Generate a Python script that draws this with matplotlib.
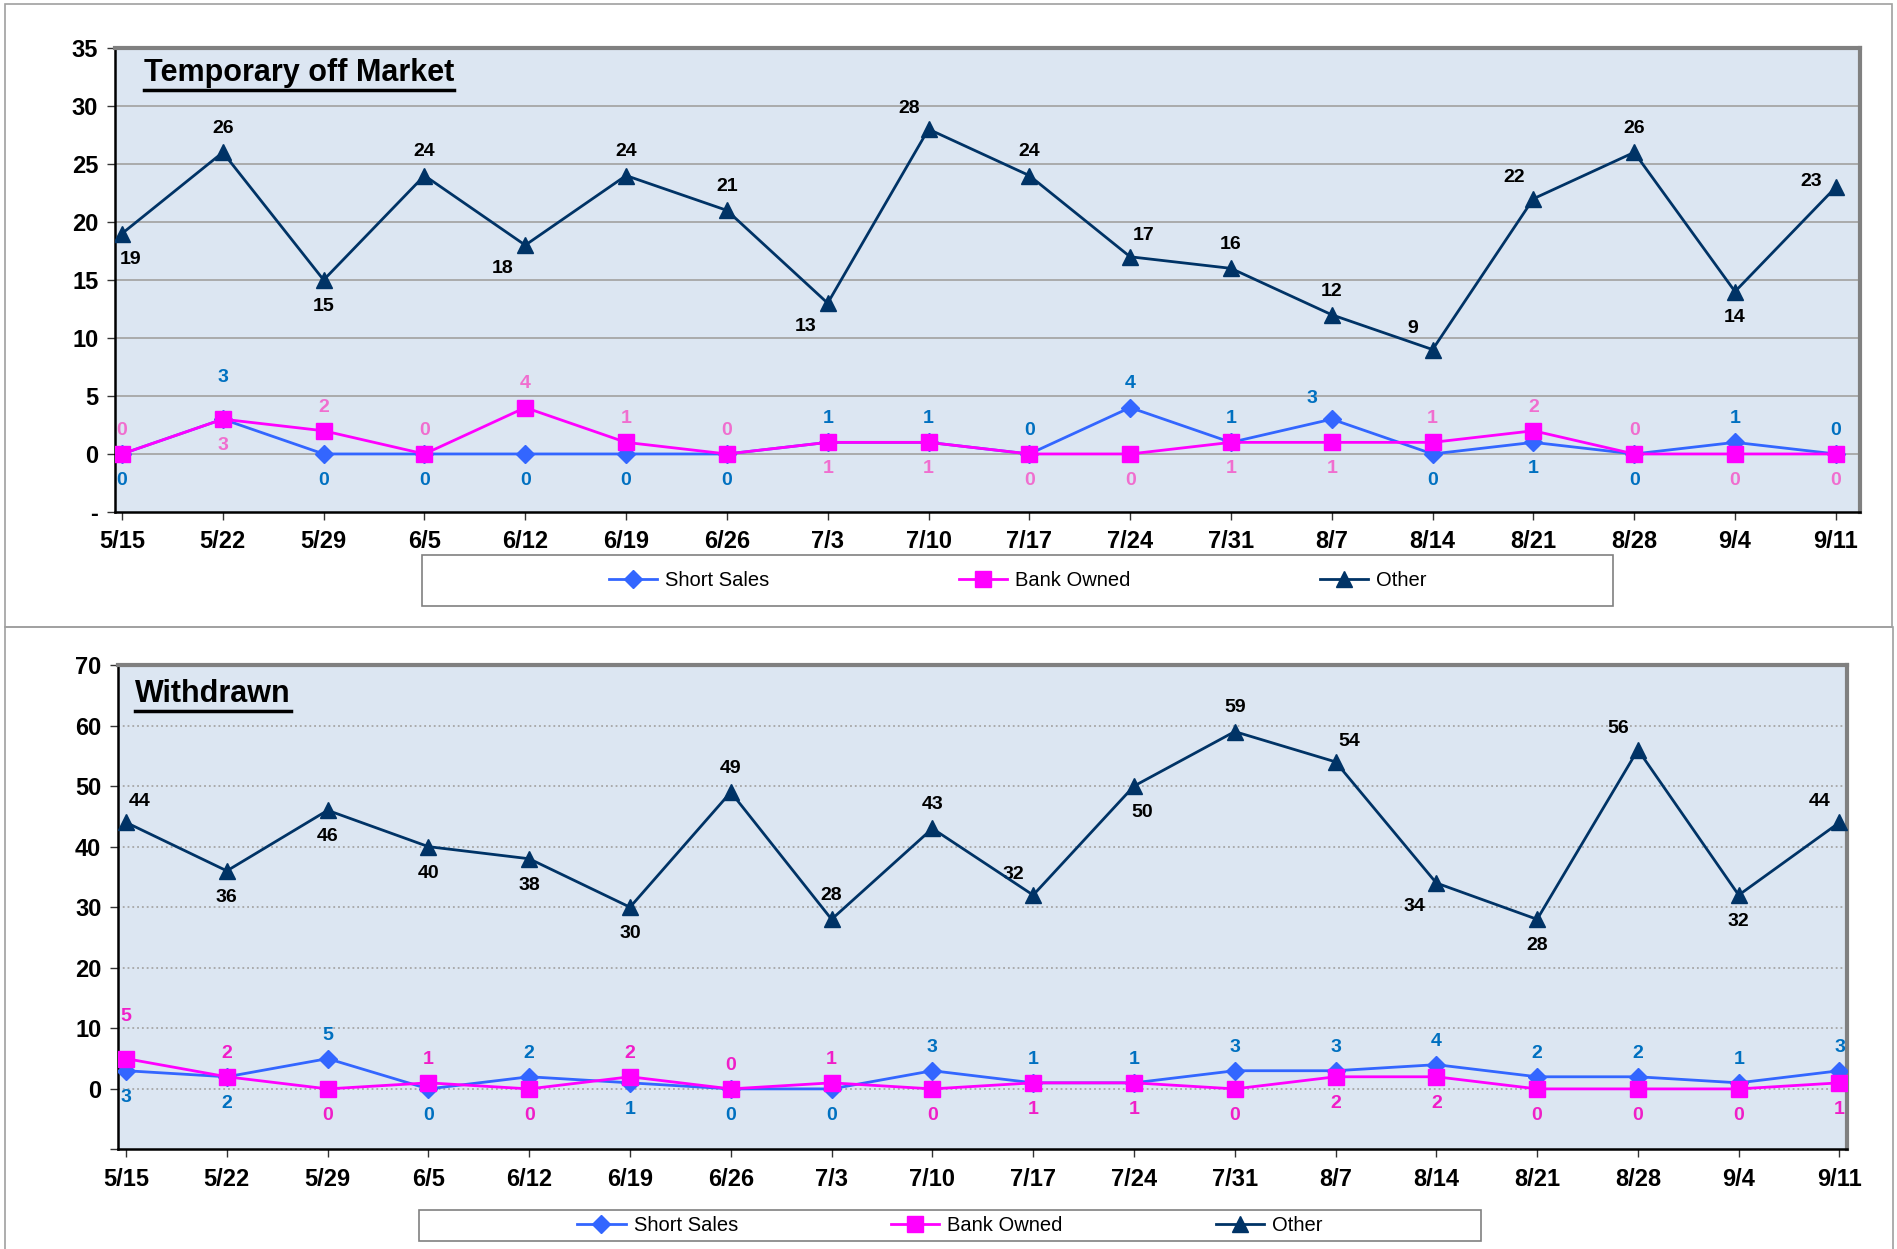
import matplotlib
matplotlib.use('Agg')
import matplotlib.pyplot as plt
from matplotlib.lines import Line2D
from matplotlib.patches import Rectangle

plt.rcParams['font.family'] = ['Liberation Sans', 'DejaVu Sans']

weeks = ['5/15', '5/22', '5/29', '6/5', '6/12', '6/19', '6/26', '7/3', '7/10',
         '7/17', '7/24', '7/31', '8/7', '8/14', '8/21', '8/28', '9/4', '9/11']

# Temporary off Market
tom_short = [0, 3, 0, 0, 0, 0, 0, 1, 1, 0, 4, 1, 3, 0, 1, 0, 1, 0]
tom_bank = [0, 3, 2, 0, 4, 1, 0, 1, 1, 0, 0, 1, 1, 1, 2, 0, 0, 0]
tom_other = [19, 26, 15, 24, 18, 24, 21, 13, 28, 24, 17, 16, 12, 9, 22, 26, 14, 23]

# Withdrawn
wd_short = [3, 2, 5, 0, 2, 1, 0, 0, 3, 1, 1, 3, 3, 4, 2, 2, 1, 3]
wd_bank = [5, 2, 0, 1, 0, 2, 0, 1, 0, 1, 1, 0, 2, 2, 0, 0, 0, 1]
wd_other = [44, 36, 46, 40, 38, 30, 49, 28, 43, 32, 50, 59, 54, 34, 28, 56, 32, 44]

# label placement codes (a=above, b=below, l/r = shifted left/right, A = farther)
tom_short_pos = ['b', 'A', 'b', 'b', 'b', 'b', 'b', 'a', 'a', 'a', 'a', 'a', 'al', 'b', 'b', 'b', 'a', 'a']
tom_bank_pos = ['a', 'b', 'a', 'a', 'a', 'a', 'a', 'b', 'b', 'b', 'b', 'b', 'b', 'a', 'a', 'a', 'b', 'b']
tom_other_pos = ['br', 'a', 'b', 'a', 'bl', 'a', 'a', 'bl', 'al', 'a', 'ar', 'a', 'a', 'al', 'al', 'a', 'b', 'l']
wd_short_pos = ['b', 'b', 'a', 'b', 'a', 'b', 'b', 'b', 'a', 'a', 'a', 'a', 'a', 'a', 'a', 'a', 'a', 'a']
wd_bank_pos = ['A', 'a', 'b', 'a', 'b', 'a', 'a', 'a', 'b', 'b', 'b', 'b', 'b', 'b', 'b', 'b', 'b', 'b']
wd_other_pos = ['ar', 'b', 'b', 'b', 'b', 'b', 'a', 'a', 'a', 'al', 'br', 'a', 'ar', 'bl', 'b', 'al', 'b', 'al']

offsets = {'a': (0, 17), 'b': (0, -19), 'A': (0, 30),
           'al': (-14, 15), 'ar': (10, 15), 'bl': (-16, -17), 'br': (6, -19),
           'l': (-18, 4)}

c_other = '#003366'
c_short = '#3366FF'
c_bank = '#FF00FF'
bg = '#DCE6F2'

fig = plt.figure(figsize=(18.97, 12.49), dpi=100)

# panel frames
fig.add_artist(Rectangle((5 / 1897, 1 - 627 / 1249), 1887 / 1897, 623 / 1249,
                         transform=fig.transFigure, fill=False, ec='#A0A0A0', lw=1.2))
fig.add_artist(Rectangle((5 / 1897, -0.01), 1888 / 1897, 1 - 627 / 1249 + 0.01,
                         transform=fig.transFigure, fill=False, ec='#A0A0A0', lw=1.2))


def label_series(ax, x, vals, pos, color):
    for xi, v, p in zip(x, vals, pos):
        dx, dy = offsets[p]
        ax.annotate(str(v), (xi, v), xytext=(dx, dy), textcoords='offset points',
                    ha='center', va='center', fontsize=14, fontweight='bold', color=color)


def panel(rect, short, bank, other, spos, bpos, opos, ylim, yticks, yticklabels,
          xlim, title, title_xy, bank_lbl_color, grid_ls, legend_rect, colsp):
    ax = fig.add_axes(rect)
    ax.set_facecolor(bg)
    x = list(range(len(weeks)))
    ax.plot(x, short, color=c_short, lw=2, marker='D', ms=9, label='Short Sales', zorder=3)
    ax.plot(x, bank, color=c_bank, lw=2, marker='s', ms=11, label='Bank Owned', zorder=4)
    ax.plot(x, other, color=c_other, lw=2, marker='^', ms=12, label='Other', zorder=5)
    label_series(ax, x, short, spos, '#0070C0')
    label_series(ax, x, bank, bpos, bank_lbl_color)
    label_series(ax, x, other, opos, 'black')

    ax.set_xlim(*xlim)
    ax.set_ylim(*ylim)
    ax.set_yticks(yticks)
    ax.set_yticklabels(yticklabels)
    ax.set_xticks(x)
    ax.set_xticklabels(weeks)
    ax.tick_params(axis='both', labelsize=17, length=6, width=1, color='#333333')
    for lbl in ax.get_xticklabels() + ax.get_yticklabels():
        lbl.set_fontweight('bold')
    ax.tick_params(axis='x', pad=7)
    ax.tick_params(axis='y', pad=6)
    for yt in yticks[1:]:
        ax.axhline(yt, color='#A6A6A6', lw=1.3, ls=grid_ls, zorder=1)
    ax.spines['left'].set_color('black')
    ax.spines['bottom'].set_color('black')
    ax.spines['left'].set_linewidth(1.8)
    ax.spines['bottom'].set_linewidth(1.8)
    ax.spines['top'].set_color('#808080')
    ax.spines['right'].set_color('#808080')
    ax.spines['top'].set_linewidth(3)
    ax.spines['right'].set_linewidth(3)

    t = ax.text(title_xy[0], title_xy[1], title, transform=ax.transAxes,
                fontsize=22, fontweight='bold', ha='left', va='center')

    # legend box and centred entries
    x0, y0, w, h = legend_rect
    fig.add_artist(Rectangle((x0, y0), w, h, transform=fig.transFigure, fill=False,
                             ec='#808080', lw=1.2))
    hd, lb = ax.get_legend_handles_labels()
    fig.legend(hd, lb, loc='center', bbox_to_anchor=(x0 + w / 2, y0 + h / 2), ncol=3,
               fontsize=14.5, frameon=False, handlelength=2.4, columnspacing=colsp,
               handletextpad=0.4, borderpad=0, borderaxespad=0)
    return ax, t


ax1, t1 = panel([0.0606, 0.5901, 0.9199, 0.3715], tom_short, tom_bank, tom_other,
                tom_short_pos, tom_bank_pos, tom_other_pos,
                (-5, 35), [-5, 0, 5, 10, 15, 20, 25, 30, 35],
                ['-', '0', '5', '10', '15', '20', '25', '30', '35'],
                (-0.07, 17.24), 'Temporary off Market', (0.0166, 0.946), '#F06ECF', '-',
                (0.2225, 0.5148, 0.6278, 0.0408), 9.4)

ax2, t2 = panel([0.0622, 0.0797, 0.9112, 0.3879], wd_short, wd_bank, wd_other,
                wd_short_pos, wd_bank_pos, wd_other_pos,
                (-10, 70), [-10, 0, 10, 20, 30, 40, 50, 60, 70],
                ['', '0', '10', '20', '30', '40', '50', '60', '70'],
                (-0.08, 17.07), 'Withdrawn', (0.0101, 0.941), '#F01EC8', ':',
                (0.2209, 0.0064, 0.5598, 0.0248), 7.6)

# underline the panel titles
fig.canvas.draw()
r = fig.canvas.get_renderer()
inv = fig.transFigure.inverted()
for t in (t1, t2):
    bb = t.get_window_extent(r)
    x0, y0 = inv.transform((bb.x0, bb.y0 - 2))
    x1, _ = inv.transform((bb.x1, bb.y0 - 2))
    fig.add_artist(Line2D([x0, x1], [y0, y0], transform=fig.transFigure, color='black', lw=2.5))

fig.savefig('out.png', dpi=100)
